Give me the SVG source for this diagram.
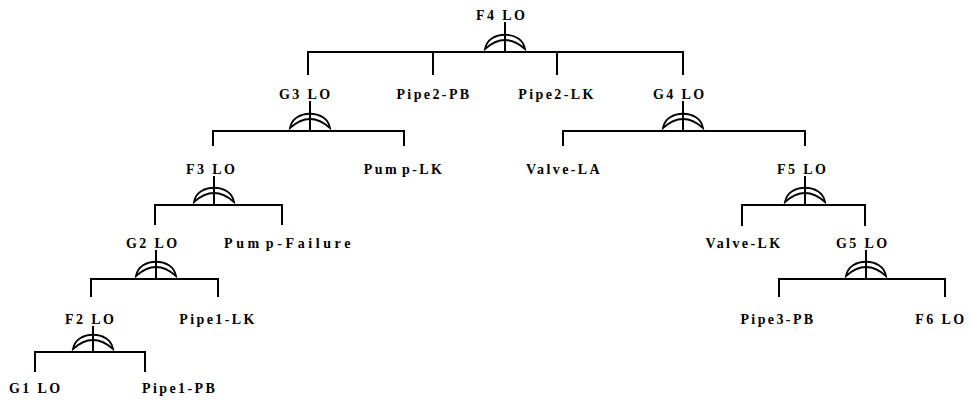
<svg xmlns="http://www.w3.org/2000/svg" width="971" height="401" viewBox="0 0 971 401">
<style>
text{font-family:"Liberation Serif","Times New Roman",serif;font-weight:bold;font-size:14px;letter-spacing:2.4px;fill:#000}
.c{text-anchor:middle}
.w{letter-spacing:3.6px}
.ln{stroke:#000;stroke-width:2;fill:none}
.gate{stroke:#000;stroke-width:1.8;fill:#fff;stroke-linejoin:miter}
</style>
<defs>
<path id="g" d="M-20,0 C-17,-19 17,-19 20,0 Q0,-18 -20,0 Z"/>
</defs>
<rect width="971" height="401" fill="#fff"/>
<g id="connectors" class="ln">
<path d="M308,75V52H683V75M433,52V75M557,52V75"/>
<path d="M213,146V131H404V146"/>
<path d="M563,146V131H805V146"/>
<path d="M155,225V205H282V225"/>
<path d="M742,226V205H865V226"/>
<path d="M91,297V279H218V297"/>
<path d="M779,297V279H945V297"/>
<path d="M35,372V352H145V372"/>
</g>
<g id="F4"><text x="476" y="20">F4 LO</text><use href="#g" class="gate" x="505" y="49"/><path class="ln" d="M505,22V52"/></g>
<g id="G3"><text x="279" y="99">G3 LO</text><use href="#g" class="gate" x="310" y="128"/><path class="ln" d="M310,101V131"/></g>
<g id="Pipe2-PB"><text class="c" x="434" y="99">Pipe2-PB</text></g>
<g id="Pipe2-LK"><text class="c" x="557" y="99">Pipe2-LK</text></g>
<g id="G4"><text x="653" y="99">G4 LO</text><use href="#g" class="gate" x="683" y="128"/><path class="ln" d="M683,101V131"/></g>
<g id="F3"><text x="186" y="174">F3 LO</text><use href="#g" class="gate" x="214" y="202"/><path class="ln" d="M214,176V205"/></g>
<g id="Pump-LK"><text class="c" x="404" y="174">Pum<tspan dx="3">p</tspan>-LK</text></g>
<g id="Valve-LA"><text class="c" x="564" y="174">Valve-LA</text></g>
<g id="F5"><text x="777" y="174">F5 LO</text><use href="#g" class="gate" x="805" y="202"/><path class="ln" d="M805,176V205"/></g>
<g id="G2"><text x="126" y="248">G2 LO</text><use href="#g" class="gate" x="156" y="276"/><path class="ln" d="M156,250V279"/></g>
<g id="Pump-Failure"><text class="c w" x="289" y="248">Pum<tspan dx="3">p</tspan>-Failure</text></g>
<g id="Valve-LK"><text class="c" x="744" y="248">Valve-LK</text></g>
<g id="G5"><text x="836" y="248">G5 LO</text><use href="#g" class="gate" x="866" y="276"/><path class="ln" d="M866,250V279"/></g>
<g id="F2"><text x="65" y="324">F2 LO</text><use href="#g" class="gate" x="93" y="349"/><path class="ln" d="M93,326V352"/></g>
<g id="Pipe1-LK"><text class="c" x="218" y="324">Pipe1-LK</text></g>
<g id="Pipe3-PB"><text class="c" x="778" y="324">Pipe3-PB</text></g>
<g id="F6"><text class="c" x="941" y="324">F6 LO</text></g>
<g id="G1"><text x="9" y="393">G1 LO</text></g>
<g id="Pipe1-PB"><text x="142" y="393">Pipe1-PB</text></g>
</svg>
